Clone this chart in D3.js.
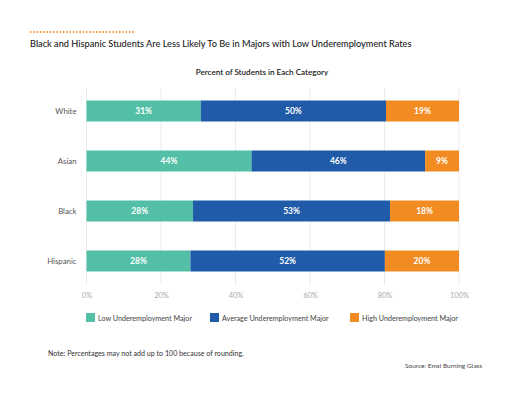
<!DOCTYPE html>
<html><head><meta charset="utf-8">
<script src="https://cdn.jsdelivr.net/npm/d3@7"></script>
<style>body{margin:0;background:#fff;font-family:Lato,"Open Sans",sans-serif;}</style>
</head><body><svg id="c" width="512" height="399"></svg>
<script>
const categories = ["White","Asian","Black","Hispanic"];
const seriesNames = ["Low Underemployment Major","Average Underemployment Major","High Underemployment Major"];
const lowVals = [30.7,44.3,28.6,27.9];
const avgVals = [49.7,46.6,52.9,52.2];
const highVals = [19.6,9.1,18.5,19.9];
const lowLabels = ["31%","44%","28%","28%"];
const avgLabels = ["50%","46%","53%","52%"];
const highLabels = ["19%","9%","18%","20%"];
const ticks = [0,20,40,60,80,100];
const colors = ["#52bfa6","#1f5ba8","#f28b22"];

const svg = d3.select("#c");
const x = d3.scaleLinear().domain([0,100]).range([86.5,459]);
const y = d3.scaleBand().domain(categories).range([86,286]).paddingInner(0.58).paddingOuter(0.29);

// dotted line
svg.append("line").attr("x1",30).attr("x2",134).attr("y1",32).attr("y2",32)
  .attr("stroke","#f28b22").attr("stroke-width",2).attr("stroke-dasharray","1.3,2");
svg.append("text").attr("x",30).attr("y",47).attr("font-size",9.2).attr("font-weight",500)
  .attr("fill","#1a1a1a").text("Black and Hispanic Students Are Less Likely To Be in Majors with Low Underemployment Rates");
svg.append("text").attr("x",262).attr("y",75).attr("text-anchor","middle").attr("font-size",8.1)
  .attr("font-weight",600).attr("fill","#1a1a1a").text("Percent of Students in Each Category");

// grid
svg.append("g").selectAll("line").data(ticks).join("line")
  .attr("x1",d=>x(d)).attr("x2",d=>x(d)).attr("y1",88).attr("y2",285)
  .attr("stroke","#ebebeb").attr("stroke-width",1);

const axis = d3.axisBottom(x).tickValues(ticks).tickFormat(d=>d+"%").tickSize(0);
const ag = svg.append("g").attr("transform","translate(0,290)").call(axis);
ag.select(".domain").remove();
ag.selectAll("text").attr("font-size",7.5).attr("fill","#aaa").attr("font-family","Lato");

const yAxis = d3.axisLeft(y).tickSize(0).tickPadding(10);
const yg = svg.append("g").attr("transform","translate(86.5,0)").call(yAxis);
yg.select(".domain").remove();
yg.selectAll("text").attr("font-size",7.8).attr("fill","#555").attr("font-family","Lato");

const series = [lowVals,avgVals,highVals];
const labels = [lowLabels,avgLabels,highLabels];
categories.forEach((c,i)=>{
  let acc=0;
  series.forEach((s,k)=>{
    const v=s[i]; const x0=acc, x1=acc+v; acc=x1;
    svg.append("rect").attr("x",x(x0)).attr("y",y(c)).attr("width",x(x1)-x(x0)).attr("height",y.bandwidth())
      .attr("fill",colors[k]);
    svg.append("text").attr("x",(x(x0)+x(x1))/2).attr("y",y(c)+y.bandwidth()/2+3.2)
      .attr("text-anchor","middle").attr("font-size",8.5).attr("font-weight",700).attr("fill","#fff")
      .text(labels[k][i]);
  });
});

// legend
const lx=[86,210,350];
seriesNames.forEach((n,k)=>{
  svg.append("rect").attr("x",lx[k]).attr("y",313).attr("width",9).attr("height",9).attr("fill",colors[k]);
  svg.append("text").attr("x",lx[k]+12).attr("y",320.5).attr("font-size",7.2).attr("fill","#444").text(n);
});

svg.append("text").attr("x",48).attr("y",356).attr("font-size",7.1).attr("fill","#333")
  .text("Note: Percentages may not add up to 100 because of rounding.");
svg.append("text").attr("x",482).attr("y",368).attr("text-anchor","end").attr("font-size",6.5).attr("fill","#444")
  .text("Source: Emsi Burning Glass");
</script></body></html>
